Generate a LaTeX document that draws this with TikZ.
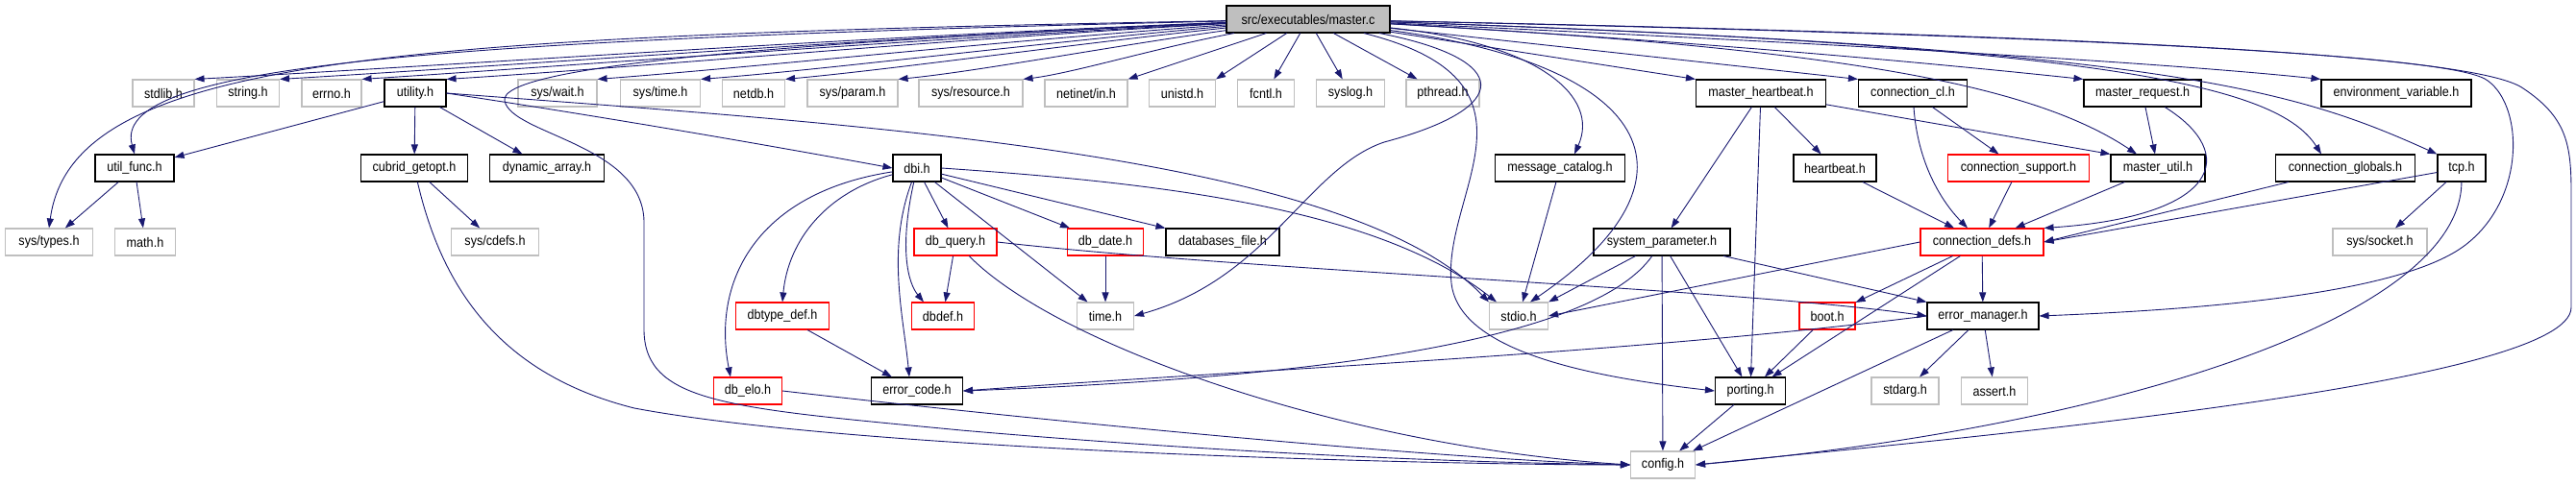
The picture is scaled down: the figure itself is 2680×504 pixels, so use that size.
\documentclass[tikz,border=0pt]{standalone}
\usepackage{fontspec}
\setmainfont{Liberation Sans}[FakeStretch=0.9]
\usetikzlibrary{arrows.meta}
\definecolor{edgeblue}{RGB}{25,25,112}
\definecolor{sysgray}{RGB}{191,191,191}

\tikzset{
  hfile/.style={draw, line width=1.1pt, minimum height=28pt, inner xsep=2pt, inner ysep=0pt,
    fill=white, font=\fontsize{14pt}{16pt}\selectfont},
  sysfile/.style={hfile, draw=sysgray},
  srcfile/.style={hfile, draw=black},
  cutfile/.style={hfile, draw=red},
  mainfile/.style={hfile, draw=black, fill=sysgray},
  dep/.style={edgeblue, line width=0.9pt, -{Triangle[length=10pt,width=7pt]}},
}

\begin{document}
\begin{tikzpicture}[x=1pt, y=-1pt]
  \useasboundingbox (0,0) rectangle (2680,504);

  % --- top: the file itself ---
  \node[mainfile, minimum width=170pt] (master) at (1361,20) {src/executables/master.c};

  % --- row 2 ---
  \node[sysfile, minimum width=64pt] (stdlib) at (170,97) {stdlib.h};
  \node[sysfile, minimum width=65pt] (string) at (258,97) {string.h};
  \node[sysfile, minimum width=62pt] (errno) at (345,97) {errno.h};
  \node[srcfile, minimum width=64pt] (utility) at (432,97) {utility.h};
  \node[sysfile, minimum width=82pt] (syswait) at (580,97) {sys/wait.h};
  \node[sysfile, minimum width=83pt] (systime) at (687,97) {sys/time.h};
  \node[sysfile, minimum width=65pt] (netdb) at (784,97) {netdb.h};
  \node[sysfile, minimum width=94pt] (sysparam) at (887,97) {sys/param.h};
  \node[sysfile, minimum width=108pt] (sysres) at (1010,97) {sys/resource.h};
  \node[sysfile, minimum width=86pt] (netinet) at (1130,97) {netinet/in.h};
  \node[sysfile, minimum width=69pt] (unistd) at (1230,97) {unistd.h};
  \node[sysfile, minimum width=59pt] (fcntl) at (1317,97) {fcntl.h};
  \node[sysfile, minimum width=71pt] (syslog) at (1405,97) {syslog.h};
  \node[sysfile, minimum width=76pt] (pthread) at (1501,97) {pthread.h};
  \node[srcfile, minimum width=135pt] (mheartbeat) at (1832,97) {master\_heartbeat.h};
  \node[srcfile, minimum width=113pt] (conncl) at (1990,97) {connection\_cl.h};
  \node[srcfile, minimum width=122pt] (mrequest) at (2229,97) {master\_request.h};
  \node[srcfile, minimum width=156pt] (envvar) at (2493,97) {environment\_variable.h};

  % --- row 3 ---
  \node[srcfile, minimum width=82pt] (utilfunc) at (140,175) {util\_func.h};
  \node[srcfile, minimum width=111pt] (getopt) at (431,175) {cubrid\_getopt.h};
  \node[srcfile, minimum width=119pt] (dynarray) at (569,175) {dynamic\_array.h};
  \node[srcfile, minimum width=50pt] (dbi) at (954,175) {dbi.h};
  \node[srcfile, minimum width=135pt] (msgcat) at (1623,175) {message\_catalog.h};
  \node[srcfile, minimum width=86pt] (heartbeat) at (1909,175) {heartbeat.h};
  \node[cutfile, minimum width=147pt] (connsupport) at (2100,175) {connection\_support.h};
  \node[srcfile, minimum width=98pt] (mutil) at (2245,175) {master\_util.h};
  \node[srcfile, minimum width=145pt] (connglobals) at (2440,175) {connection\_globals.h};
  \node[srcfile, minimum width=50pt] (tcp) at (2561,175) {tcp.h};

  % --- row 4 ---
  \node[sysfile, minimum width=91pt] (systypes) at (51,252) {sys/types.h};
  \node[sysfile, minimum width=63pt] (math) at (151,252) {math.h};
  \node[sysfile, minimum width=91pt] (syscdefs) at (515,252) {sys/cdefs.h};
  \node[cutfile, minimum width=86pt] (dbquery) at (994,252) {db\_query.h};
  \node[cutfile, minimum width=79pt] (dbdate) at (1150,252) {db\_date.h};
  \node[srcfile, minimum width=118pt] (dbfile) at (1272,252) {databases\_file.h};
  \node[srcfile, minimum width=142pt] (sysparm) at (1729,252) {system\_parameter.h};
  \node[cutfile, minimum width=128pt] (conndefs) at (2062,252) {connection\_defs.h};
  \node[sysfile, minimum width=98pt] (syssocket) at (2476,252) {sys/socket.h};

  % --- row 5 ---
  \node[cutfile, minimum width=97pt] (dbtypedef) at (814,329) {dbtype\_def.h};
  \node[cutfile, minimum width=65pt] (dbdef) at (981,329) {dbdef.h};
  \node[sysfile, minimum width=59pt] (timeh) at (1150,329) {time.h};
  \node[sysfile, minimum width=61pt] (stdio) at (1580,329) {stdio.h};
  \node[cutfile, minimum width=58pt] (boot) at (1901,329) {boot.h};
  \node[srcfile, minimum width=116pt] (errmgr) at (2063,329) {error\_manager.h};

  % --- row 6 ---
  \node[cutfile, minimum width=71pt] (dbelo) at (778,407) {db\_elo.h};
  \node[srcfile, minimum width=95pt] (errcode) at (954,407) {error\_code.h};
  \node[srcfile, minimum width=73pt] (porting) at (1821,407) {porting.h};
  \node[sysfile, minimum width=70pt] (stdarg) at (1982,407) {stdarg.h};
  \node[sysfile, minimum width=69pt] (assert) at (2075,407) {assert.h};

  % --- row 7 ---
  \node[sysfile, minimum width=67pt] (config) at (1730,484) {config.h};

  % master.c, to the left
  \draw[dep] (master) .. controls (400,38) and (75,60) .. (systypes.north);
  \draw[dep] (master) .. controls (420,42) and (115,70) .. (utilfunc.north);
  \draw[dep] (master) .. controls (900,38) and (470,68) .. (stdlib.north east);
  \draw[dep] (master) .. controls (931,38) and (537,68) .. (string.north east);
  \draw[dep] (master) .. controls (961,40) and (601,68) .. (errno.north east);
  \draw[dep] (master) .. controls (992,40) and (667,70) .. (utility.north east);
  \draw[dep] (master) .. controls (1047,42) and (785,70) .. (syswait.north east);
  \draw[dep] (master) .. controls (1084,44) and (865,72) .. (systime.north east);
  \draw[dep] (master) .. controls (1115,46) and (931,72) .. (netdb.north east);
  \draw[dep] (master) .. controls (1156,48) and (1020,74) .. (sysparam.north east);
  \draw[dep] (master) .. controls (1202,50) and (1117,76) .. (sysres.north east);
  \draw[dep] (master) -- (netinet.north east);
  \draw[dep] (master) -- (unistd.north east);
  \draw[dep] (master) -- (fcntl);
  \draw[dep] (master) -- (syslog);
  \draw[dep] (master) -- (pthread);
  \draw[dep] (master) .. controls (800,45) and (518,70) .. (525,105)
    .. controls (532,140) and (668,150) .. (670,230) -- (670,345)
    .. controls (672,420) and (760,425) .. (1000,448)
    .. controls (1300,474) and (1550,482) .. (config.west);

  % master.c, downwards
  \draw[dep] (master) .. controls (1600,45) and (1665,100) .. ([xshift=15pt]msgcat.north);
  \draw[dep] (master) .. controls (1575,62) and (1575,112) .. (1440,148)
    .. controls (1360,175) and (1320,290) .. (timeh.east);
  \draw[dep] (master) .. controls (1620,85) and (1500,200) .. (1510,295)
    .. controls (1518,365) and (1650,392) .. (porting.west);
  \draw[dep] (master) .. controls (1730,70) and (1775,190) .. ([xshift=12pt]stdio.north);

  % master.c, to the right
  \draw[dep] (master) -- (mheartbeat.north west);
  \draw[dep] (master) -- (conncl.north west);
  \draw[dep] (master) .. controls (1800,45) and (2050,70) .. (mrequest.north west);
  \draw[dep] (master) .. controls (1900,45) and (2250,65) .. (envvar.north west);
  \draw[dep] (master) .. controls (1900,50) and (2110,85) .. ([xshift=-22pt]mutil.north);
  \draw[dep] (master) .. controls (2200,48) and (2370,90) .. ([xshift=-25pt]connglobals.north);
  \draw[dep] (master) .. controls (2260,50) and (2390,95) .. (tcp.north west);
  \draw[dep] (master) .. controls (2200,38) and (2540,58) .. (2585,82)
    .. controls (2625,105) and (2630,205) .. (2565,255)
    .. controls (2500,305) and (2300,322) .. (errmgr.east);
  \draw[dep] (master) .. controls (2250,38) and (2580,60) .. (2625,92)
    .. controls (2670,122) and (2675,150) .. (2675,200) -- (2675,320)
    .. controls (2675,400) and (2050,455) .. (config.east);

  % utility.h and friends
  \draw[dep] (utility) -- (utilfunc);
  \draw[dep] (utility) -- (getopt);
  \draw[dep] (utility) -- (dynarray);
  \draw[dep] (utility.east) .. controls (650,125) and (820,155) .. (dbi.west);
  \draw[dep] (utility.east) .. controls (900,130) and (1400,160) .. (stdio.north west);
  \draw[dep] (utilfunc) -- (systypes);
  \draw[dep] (utilfunc) -- (math);
  \draw[dep] (getopt) -- (syscdefs);
  \draw[dep] (getopt) .. controls (460,300) and (520,390) .. (660,425)
    .. controls (900,470) and (1500,484) .. (config.west);

  % dbi.h
  \draw[dep] (dbi) -- (dbquery);
  \draw[dep] (dbi) -- (dbdate);
  \draw[dep] (dbi) -- (dbfile);
  \draw[dep] (dbi) -- (timeh);
  \draw[dep] (dbi) .. controls (935,260) and (945,295) .. ([xshift=-20pt]dbdef.north);
  \draw[dep] (dbi) .. controls (860,200) and (820,250) .. (dbtypedef.north);
  \draw[dep] (dbi) .. controls (790,200) and (740,290) .. ([xshift=-18pt]dbelo.north);
  \draw[dep] (dbi) .. controls (922,260) and (940,330) .. ([xshift=-8pt]errcode.north);
  \draw[dep] (dbi.east) .. controls (1200,190) and (1430,215) .. ([xshift=8pt]stdio.north west);
  \draw[dep] (dbquery) -- (dbdef);
  \draw[dep] (dbquery.east) .. controls (1300,282) and (1800,300) .. (errmgr.west);
  \draw[dep] (dbquery) .. controls (1100,360) and (1400,465) .. (config.west);
  \draw[dep] (dbdate) -- (timeh);
  \draw[dep] (dbtypedef) -- (errcode);
  \draw[dep] (dbelo.east) .. controls (1100,440) and (1500,478) .. (config.west);

  % message catalog and system parameters
  \draw[dep] (msgcat) -- (stdio);
  \draw[dep] (sysparm) -- (stdio.north east);
  \draw[dep] (sysparm) -- (config);
  \draw[dep] (sysparm) -- (porting);
  \draw[dep] (sysparm) -- (errmgr.north west);
  \draw[dep] (sysparm) .. controls (1660,350) and (1400,392) .. (errcode.east);

  % heartbeat and connection headers
  \draw[dep] (mheartbeat) -- (sysparm);
  \draw[dep] (mheartbeat) -- (porting);
  \draw[dep] (mheartbeat) -- (heartbeat);
  \draw[dep] (mheartbeat) -- (mutil.north west);
  \draw[dep] (heartbeat) -- (conndefs);
  \draw[dep] (conncl) -- (connsupport);
  \draw[dep] (conncl) .. controls (1995,170) and (2020,210) .. ([xshift=-15pt]conndefs.north);
  \draw[dep] (connsupport) -- (conndefs);
  \draw[dep] (mrequest) -- (mutil);
  \draw[dep] (mrequest) .. controls (2330,160) and (2310,225) .. (conndefs.north east);
  \draw[dep] (mutil) -- (conndefs);
  \draw[dep] (connglobals) -- (conndefs.east);
  \draw[dep] (tcp) -- (conndefs.east);
  \draw[dep] (tcp) -- (syssocket);
  \draw[dep] (tcp) .. controls (2560,330) and (2200,445) .. (config.east);

  % connection_defs.h and below
  \draw[dep] (conndefs.west) -- (stdio.east);
  \draw[dep] (conndefs) -- (boot);
  \draw[dep] (conndefs) -- (porting);
  \draw[dep] (conndefs) -- (errmgr);
  \draw[dep] (boot) -- (porting);
  \draw[dep] (errmgr.west) .. controls (1700,368) and (1300,385) .. (errcode.east);
  \draw[dep] (errmgr) -- (config);
  \draw[dep] (errmgr) -- (stdarg);
  \draw[dep] (errmgr) -- (assert);
  \draw[dep] (porting) -- (config);
\end{tikzpicture}
\end{document}
